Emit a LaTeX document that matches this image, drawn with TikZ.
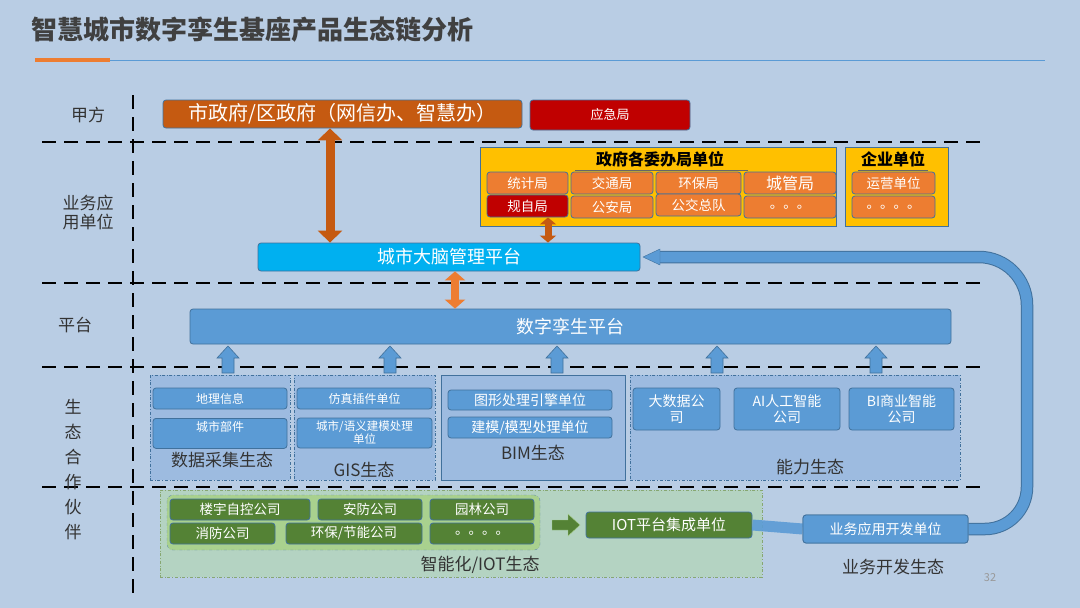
\documentclass[tikz,border=0pt]{standalone}
\usepackage{fontspec}
\setmainfont{Noto Sans CJK SC}
\usetikzlibrary{arrows.meta}
\definecolor{bg}{HTML}{B9CDE4}
\definecolor{brn}{HTML}{C55A11}
\definecolor{ora}{HTML}{ED7D31}
\definecolor{rd}{HTML}{C00000}
\definecolor{yel}{HTML}{FFC000}
\definecolor{cy}{HTML}{00B0F0}
\definecolor{bl}{HTML}{5B9BD5}
\definecolor{bld}{HTML}{41719C}
\definecolor{eco}{HTML}{9DBBE0}
\definecolor{gd}{HTML}{548235}
\definecolor{gl}{HTML}{A9D18E}
\definecolor{gbg}{HTML}{B4D3C2}
\begin{document}
\begin{tikzpicture}[x=1pt,y=-1pt,
 box/.style={draw=bld,rounded corners=3pt,line width=0.8pt,text=white,inner sep=0pt},
 cell/.style={box,fill=ora,font=\fontsize{13.5}{14}\selectfont},
 bcell/.style={box,fill=bl,font=\fontsize{12}{14}\selectfont,align=center},
 gcell/.style={box,fill=gd,font=\fontsize{13.5}{14}\selectfont},
 dl/.style={dash pattern=on 14pt off 8pt,line width=2pt,black},
 eco/.style={draw=bld,dash dot,fill=eco,line width=0.6pt},
 lab/.style={text=black!80,font=\fontsize{17}{19}\selectfont,align=center},
 uparr/.style={fill=bl,draw=bld,line width=0.6pt}]
\fill[bg] (0,0) rectangle (1080,608);
\useasboundingbox (0,0) rectangle (1080,608);
\node[anchor=west,font=\bfseries\fontsize{26}{28}\selectfont,text=black!75] (title) at (28,30) {智慧城市数字孪生基座产品生态链分析};
\draw[ora,line width=4pt] (35,60) -- (110,60);
\draw[bl,line width=1pt] (110,60) -- (1045,60);
% dashed grid
\draw[dl] (133,95) -- (133,600);
\foreach \y in {142,283,367,487} \draw[dl] (42,\y) -- (985,\y);
% left labels
\node[lab] (l1) at (88,115) {甲方};
\node[lab] (l2) at (88,213) {业务应\\用单位};
\node[lab] (l3) at (75,325) {平台};
\node[lab,text width=18pt,font=\fontsize{17}{25}\selectfont] (l4) at (73,470) {生\\态\\合\\作\\伙\\伴};
% top
\node[box,fill=brn,minimum width=359pt,minimum height=28pt,font=\fontsize{20}{22}\selectfont] (gov) at (342.5,114) {市政府/区政府（网信办、智慧办）};
\node[box,fill=rd,minimum width=160pt,minimum height=30pt,font=\fontsize{13}{14}\selectfont] (yj) at (610,115) {应急局};
% yellow
\node[draw=bld,fill=yel,minimum width=356pt,minimum height=79pt,inner sep=0pt] (wb) at (658,186.5) {};
\node[font=\bfseries\fontsize{16}{17}\selectfont,text=black] (wbt) at (660,159) {政府各委办局单位};
\draw[black!60] (575,170) -- (748,170);
\node[cell,minimum width=81pt,minimum height=22pt] (c1) at (527.5,183) {统计局};
\node[cell,minimum width=82pt,minimum height=22pt] (c2) at (612,183) {交通局};
\node[cell,minimum width=85pt,minimum height=22pt] (c3) at (698.5,183) {环保局};
\node[cell,minimum width=92pt,minimum height=22pt,font=\fontsize{16}{17}\selectfont] (c4) at (790,183) {城管局};
\node[cell,fill=rd,minimum width=81pt,minimum height=22pt] (c5) at (527.5,206) {规自局};
\node[cell,minimum width=82pt,minimum height=22pt] (c6) at (612,207) {公安局};
\node[cell,minimum width=85pt,minimum height=22pt] (c7) at (698.5,205) {公交总队};
\node[cell,minimum width=92pt,minimum height=22pt] (c8) at (790,207) {。。。};
\node[draw=bld,fill=yel,minimum width=103pt,minimum height=79pt,inner sep=0pt] (qy) at (896.5,186.5) {};
\node[font=\bfseries\fontsize{16}{17}\selectfont,text=black] (qyt) at (893,159) {企业单位};
\draw[black!60] (858,170) -- (928,170);
\node[cell,minimum width=83pt,minimum height=22pt] (c9) at (893.5,183) {运营单位};
\node[cell,minimum width=83pt,minimum height=22pt] (c10) at (893.5,207) {。。。。};
% brain
\node[box,fill=cy,minimum width=382pt,minimum height=28pt,font=\fontsize{18}{19}\selectfont] (brain) at (449,257) {城市大脑管理平台};
\node[box,fill=bl,minimum width=761pt,minimum height=35pt,font=\fontsize{18}{19}\selectfont] (twin) at (570.5,326.5) {数字孪生平台};
% arrows
\draw[brn,line width=9pt,{Triangle[width=24pt,length=12pt]}-{Triangle[width=24pt,length=12pt]}] (gov.south -| 330,0) -- (brain.north -| 330,0);
\draw[brn,line width=7pt,{Triangle[width=16pt,length=7pt]}-{Triangle[width=16pt,length=7pt]}] (c5.south -| 548,0) -- (brain.north -| 548,0);
\draw[ora,line width=8pt,{Triangle[width=20pt,length=9pt]}-{Triangle[width=20pt,length=9pt]}] (brain.south -| 455,0) -- (twin.north -| 455,0);
% eco boxes
\node[eco,minimum width=140pt,minimum height=105pt] (e1) at (220,427.5) {};
\node[eco,minimum width=141pt,minimum height=105pt] (e2) at (364.5,427.5) {};
\node[draw=bld,fill=eco,minimum width=184pt,minimum height=105pt,line width=0.8pt] (e3) at (533,427.5) {};
\node[eco,minimum width=330pt,minimum height=105pt] (e4) at (795,427.5) {};
\foreach \x in {228,390,557,717,876}
  \draw[uparr] (\x-6,373) -- (\x-6,358) -- (\x-11,358) -- (\x,346) -- (\x+11,358) -- (\x+6,358) -- (\x+6,373) -- cycle;
\node[bcell,minimum width=134pt,minimum height=21pt] (d1) at (220,398.5) {地理信息};
\node[bcell,minimum width=134pt,minimum height=30pt,anchor=north,text depth=14pt] (d2) at (220,418) {城市部件};
\node[bcell,minimum width=135pt,minimum height=21pt] (g1) at (364.5,398.5) {仿真插件单位};
\node[bcell,minimum width=135pt,minimum height=30pt,font=\fontsize{11.5}{13}\selectfont] (g2) at (364.5,433) {城市/语义建模处理\\单位};
\node[bcell,minimum width=164pt,minimum height=20pt,font=\fontsize{14}{15}\selectfont] (b1) at (530,400) {图形处理引擎单位};
\node[bcell,minimum width=164pt,minimum height=21pt,font=\fontsize{14}{15}\selectfont] (b2) at (530,427.5) {建模/模型处理单位};
\node[bcell,minimum width=87pt,minimum height=42pt,font=\fontsize{14}{16}\selectfont] (n1) at (676.5,409) {大数据公\\司};
\node[bcell,minimum width=106pt,minimum height=42pt,font=\fontsize{14}{16}\selectfont] (n2) at (787,409) {AI人工智能\\公司};
\node[bcell,minimum width=105pt,minimum height=42pt,font=\fontsize{14}{16}\selectfont] (n3) at (901.5,409) {BI商业智能\\公司};
\node[lab] (t1) at (222,460) {数据采集生态};
\node[lab] (t2) at (364,470) {GIS生态};
\node[lab] (t3) at (533,453) {BIM生态};
\node[lab] (t4) at (810,467) {能力生态};
% IOT
\node[draw=gd!70,dash dot,fill=gbg,minimum width=602pt,minimum height=87pt,line width=0.8pt,inner sep=0pt] (iot) at (461,533.5) {};
\node[draw=bld!80,dash dot,fill=gl,rounded corners=6pt,minimum width=373pt,minimum height=55pt,inner sep=0pt] (iin) at (353.5,522.5) {};
\node[gcell,minimum width=140pt,minimum height=21pt] (i1) at (240,509.5) {楼宇自控公司};
\node[gcell,minimum width=104pt,minimum height=21pt] (i2) at (370,509.5) {安防公司};
\node[gcell,minimum width=104pt,minimum height=21pt] (i3) at (482,509.5) {园林公司};
\node[gcell,minimum width=105pt,minimum height=21pt] (i4) at (222.5,533.5) {消防公司};
\node[gcell,minimum width=136pt,minimum height=21pt] (i5) at (354,533.5) {环保/节能公司};
\node[gcell,minimum width=104pt,minimum height=21pt] (i6) at (482,533.5) {。。。。};
\node[lab] (t5) at (480,565) {智能化/IOT生态};
\node[gcell,minimum width=166pt,minimum height=26pt,font=\fontsize{15}{16}\selectfont] (iotp) at (669,525) {IOT平台集成单位};
\draw[fill=gd,draw=gl] (552,520) -- (568,520) -- (568,514) -- (580,525) -- (568,536) -- (568,530) -- (552,530) -- cycle;
% business dev
\node[bcell,minimum width=165pt,minimum height=28pt,font=\fontsize{14}{15}\selectfont] (dev) at (885.5,529) {业务应用开发单位};
\draw[bl,line width=11pt,opacity=0.9] (iotp.east) -- (dev.west);
\draw[bld,line width=12.5pt] (dev.east) -- (985,529) arc[start angle=90,end angle=0,radius=42] -- (1027,305) arc[start angle=0,end angle=-90,radius=48] -- (660,257);
\draw[bl,line width=10.5pt] (dev.east) -- (985,529) arc[start angle=90,end angle=0,radius=42] -- (1027,305) arc[start angle=0,end angle=-90,radius=48] -- (660,257);
\fill[bl,draw=bld] (660,249) -- (660,265) -- (643,257) -- cycle;
\node[bcell,minimum width=165pt,minimum height=28pt,font=\fontsize{14}{15}\selectfont] at (dev) {业务应用开发单位};
\node[lab] (t6) at (893,567) {业务开发生态};
\node[text=black!40,font=\fontsize{11}{12}\selectfont] (pg) at (990,578) {32};
\end{tikzpicture}
\end{document}
